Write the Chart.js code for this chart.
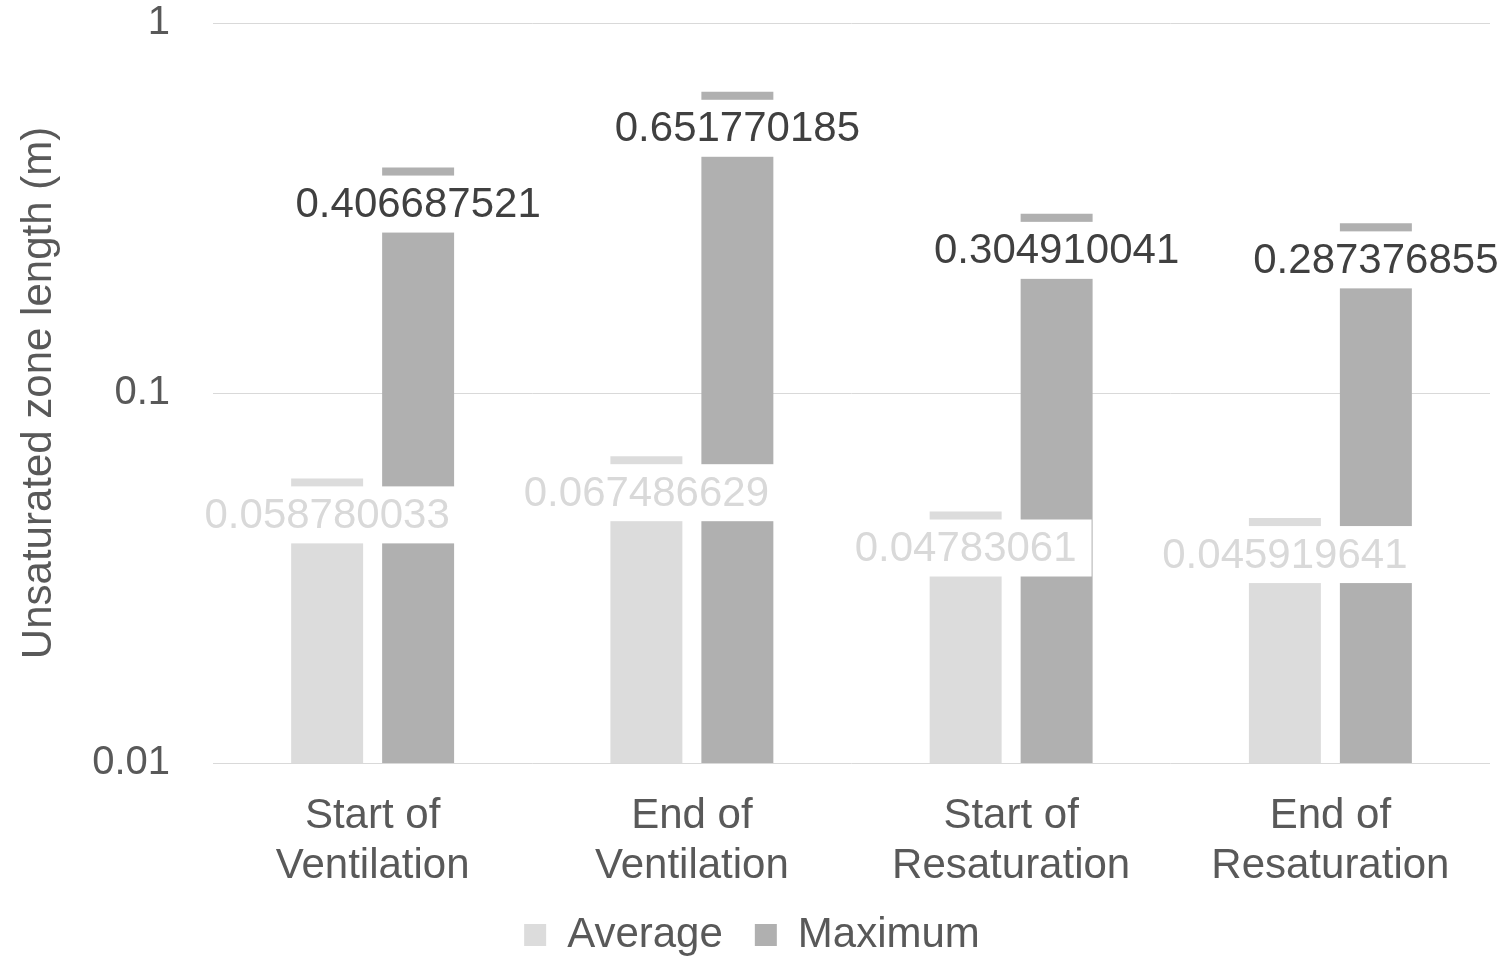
<!DOCTYPE html>
<html>
<head>
<meta charset="utf-8">
<script src="https://cdn.jsdelivr.net/npm/chart.js@4.4.1/dist/chart.umd.min.js"></script>
<style>
  html, body { margin: 0; padding: 0; background: #ffffff; overflow: hidden; }
  #wrap { width: 1509px; height: 961px; }
</style>
</head>
<body>
<div id="wrap"><canvas id="chart"></canvas></div>
<script>
// Unsaturated zone length per phase (m)
const categories = [
  ['Start of', 'Ventilation'],
  ['End of', 'Ventilation'],
  ['Start of', 'Resaturation'],
  ['End of', 'Resaturation']
];
const averageValues = [0.058780033, 0.067486629, 0.04783061, 0.045919641];
const maximumValues = [0.406687521, 0.651770185, 0.304910041, 0.287376855];
const yTickValues = [0.01, 0.1, 1];
const yTickLabels = ['0.01', '0.1', '1'];

const FONT = '"Liberation Sans", Arial, Helvetica, sans-serif';
Chart.defaults.font.family = FONT;

// Value labels sitting just under each bar's top, on a white plate that cuts through the bars
const barValueLabels = {
  id: 'barValueLabels',
  afterDatasetsDraw(chart) {
    const ctx = chart.ctx;
    ctx.save();
    ctx.font = '42px ' + FONT;
    ctx.textAlign = 'center';
    ctx.textBaseline = 'middle';
    chart.data.datasets.forEach((ds, di) => {
      const meta = chart.getDatasetMeta(di);
      meta.data.forEach((bar, i) => {
        const text = String(ds.data[i]);
        const w = ctx.measureText(text).width + 30;
        ctx.fillStyle = '#ffffff';
        ctx.fillRect(bar.x - w / 2, bar.y + 8, w, 57);
        ctx.fillStyle = ds.labelColor;
        ctx.fillText(text, bar.x, bar.y + 38);
      });
    });
    ctx.restore();
  }
};

new Chart(document.getElementById('chart'), {
  type: 'bar',
  data: {
    labels: categories,
    datasets: [
      {
        label: 'Average',
        data: averageValues,
        backgroundColor: '#dcdcdc',
        labelColor: '#d9d9d9',
        categoryPercentage: 0.570,
        barPercentage: 0.791
      },
      {
        label: 'Maximum',
        data: maximumValues,
        backgroundColor: '#b0b0b0',
        labelColor: '#404040',
        categoryPercentage: 0.570,
        barPercentage: 0.791
      }
    ]
  },
  options: {
    responsive: true,
    maintainAspectRatio: false,
    animation: false,
    layout: { padding: { left: 14, right: 19, top: 23, bottom: -5 } },
    plugins: {
      tooltip: { enabled: false },
      legend: {
        position: 'bottom',
        labels: {
          boxWidth: 22,
          boxHeight: 22,
          padding: 32,
          color: '#595959',
          font: { size: 42 }
        }
      }
    },
    scales: {
      x: {
        grid: { display: false },
        border: { display: false },
        ticks: {
          color: '#595959',
          font: { size: 42, lineHeight: 1.2 },
          padding: 20,
          maxRotation: 0,
          autoSkip: false
        },
        afterFit(scale) { scale.height = 119; }
      },
      y: {
        type: 'logarithmic',
        min: 0.01,
        max: 1,
        afterBuildTicks(scale) {
          scale.ticks = yTickValues.map(v => ({ value: v }));
        },
        ticks: {
          color: '#595959',
          font: { size: 40, lineHeight: 1 },
          padding: 0,
          callback: (v) => {
            const k = yTickValues.findIndex(t => Math.abs(t - v) < 1e-9);
            return k >= 0 ? yTickLabels[k] : '';
          }
        },
        grid: {
          color: '#d9d9d9',
          lineWidth: 1,
          drawTicks: true,
          tickLength: 43,
          tickColor: 'rgba(0,0,0,0)'
        },
        border: { display: false },
        title: {
          display: true,
          text: 'Unsaturated zone length (m)',
          color: '#595959',
          font: { size: 42, lineHeight: 1.2 },
          padding: { top: 0, bottom: 0 }
        },
        afterFit(scale) { scale.width = 199; }
      }
    }
  },
  plugins: [barValueLabels]
});
</script>
</body>
</html>
